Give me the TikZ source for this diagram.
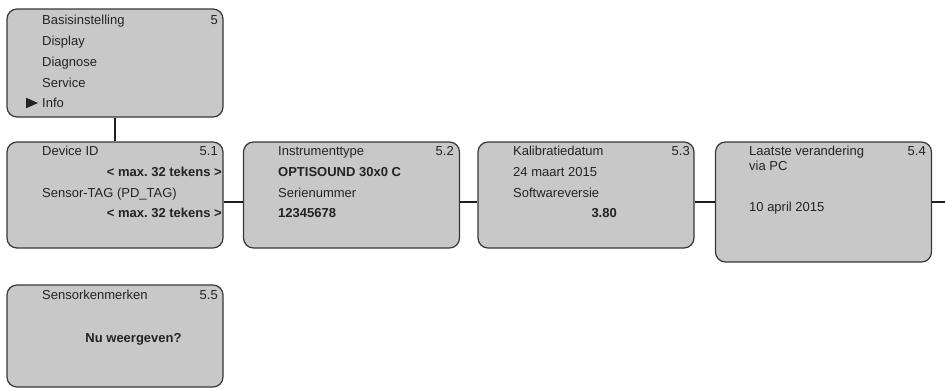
\documentclass[tikz,border=0pt]{standalone}
\usepackage{fontspec}
\setmainfont{Liberation Sans}
\frenchspacing
\begin{document}
\begin{tikzpicture}[x=1pt,y=-1pt,
  menubox/.style={draw=boxline, line width=1.2pt, fill=boxfill, rounded corners=10pt,
    inner sep=0pt, minimum width=216pt},
  conn/.style={draw=connline, line width=2.4pt},
  txt/.style={inner sep=0pt, anchor=base west, text=txtcol, font=\fontsize{13}{15}\selectfont},
  txtr/.style={txt, anchor=base east},
  txtb/.style={txt, font=\fontsize{13}{15}\selectfont\bfseries},
  txtbr/.style={txtb, anchor=base east},
  txtbc/.style={txtb, anchor=base}
]
\definecolor{boxfill}{RGB}{200,200,200}
\definecolor{boxline}{RGB}{55,55,55}
\definecolor{connline}{RGB}{30,30,30}
\definecolor{txtcol}{RGB}{35,35,35}
\useasboundingbox (0,0) rectangle (945,388);

% boxes
\node[menubox, minimum height=108pt] (b1) at (115,63) {};
\node[menubox, minimum height=106pt] (b51) at (115,195) {};
\node[menubox, minimum height=106pt] (b52) at (351.5,195) {};
\node[menubox, minimum height=106pt] (b53) at (586,195) {};
\node[menubox, minimum height=120pt] (b54) at (823.5,202) {};
\node[menubox, minimum height=102pt] (b55) at (115,336) {};
\coordinate (edge) at (945,202);

% connectors
\draw[conn] (b1.south) -- (b51.north);
\draw[conn] (b51.east |- b54.east) -- (b52.west |- b54.east);
\draw[conn] (b52.east |- b54.east) -- (b53.west |- b54.east);
\draw[conn] (b53.east |- b54.east) -- (b54.west);
\draw[conn] (b54.east) -- (edge);

% box 1
\node[txt] (t1a) at (42,24.7) {Basisinstelling};
\node[txtr] (t1n) at (218,24.7) {5};
\node[txt] (t1b) at (42,45.7) {Display};
\node[txt] (t1c) at (42,66.7) {Diagnose};
\node[txt] (t1d) at (42,87.7) {Service};
\node[txt] (t1e) at (42,107.7) {Info};
\fill[txtcol] (26,97.7) -- (38,103) -- (26,108.3) -- cycle;

% box 5.1
\node[txt] (t51a) at (42,155.7) {Device ID};
\node[txtr] (t51n) at (218,155.7) {5.1};
\node[txtbr] (t51b) at (222,176.7) {< max.\ 32 tekens >};
\node[txt] (t51c) at (42,197.7) {Sensor-TAG (PD\_TAG)};
\node[txtbr] (t51d) at (222,217.7) {< max.\ 32 tekens >};

% box 5.2
\node[txt] (t52a) at (278,155.7) {Instrumenttype};
\node[txtr] (t52n) at (454,155.7) {5.2};
\node[txtb] (t52b) at (278,176.7) {OPTISOUND 30x0 C};
\node[txt] (t52c) at (278,197.7) {Serienummer};
\node[txtb] (t52d) at (278,217.7) {12345678};

% box 5.3
\node[txt] (t53a) at (513,155.7) {Kalibratiedatum};
\node[txtr] (t53n) at (690,155.7) {5.3};
\node[txt] (t53b) at (513,176.7) {24 maart 2015};
\node[txt] (t53c) at (513,197.7) {Softwareversie};
\node[txtbr] (t53d) at (617,217.7) {3.80};

% box 5.4
\node[txt] (t54a) at (749,155.7) {Laatste verandering};
\node[txtr] (t54n) at (926,155.7) {5.4};
\node[txt] (t54b) at (749,170.7) {via PC};
\node[txt] (t54c) at (749,211.7) {10 april 2015};

% box 5.5
\node[txt] (t55a) at (42,299.7) {Sensorkenmerken};
\node[txtr] (t55n) at (218,299.7) {5.5};
\node[txtbc] (t55b) at (133.5,342.7) {Nu weergeven?};
\end{tikzpicture}
\end{document}
